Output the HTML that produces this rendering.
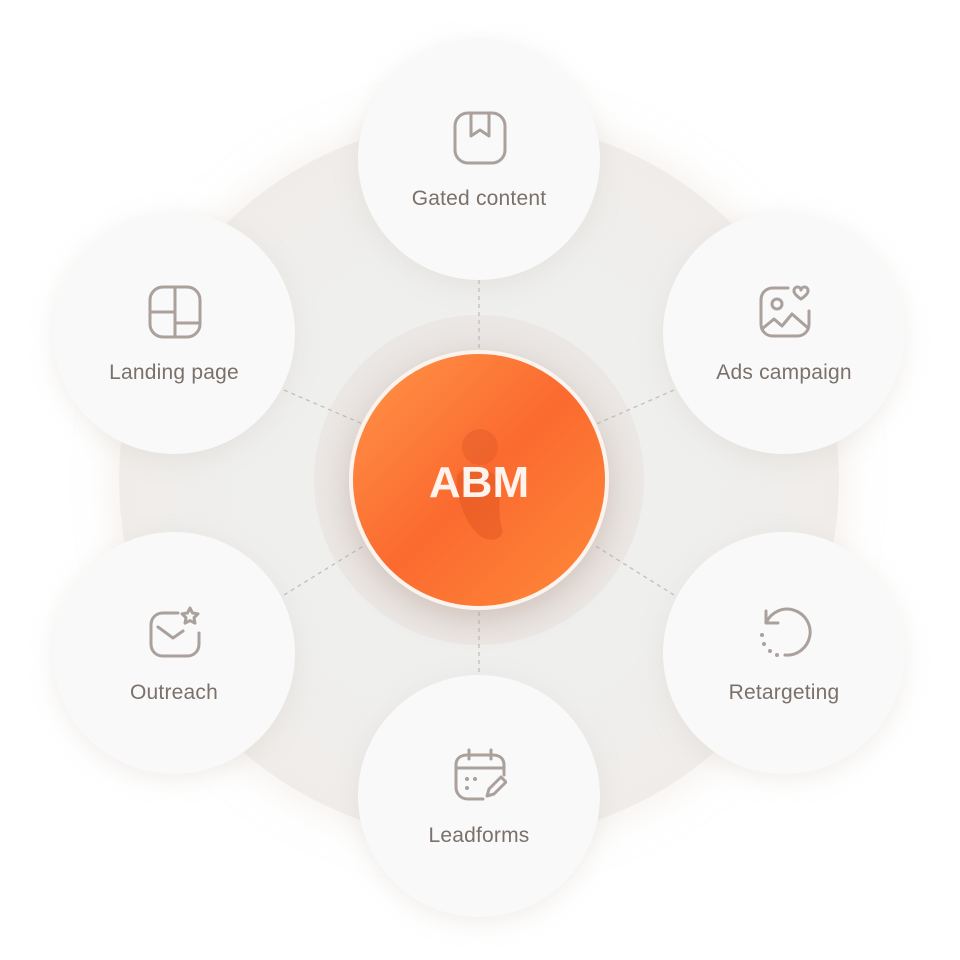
<!DOCTYPE html>
<html><head><style>
html,body{margin:0;padding:0;background:#fff;}
body{width:960px;height:960px;position:relative;overflow:hidden;font-family:"Liberation Sans",sans-serif;}
.bg{position:absolute;left:119px;top:120px;width:720px;height:720px;border-radius:50%;background:radial-gradient(circle at 50% 50%,#eeeeee 0%,#efefee 45%,#f0ece9 75%,#f1ece8 100%);box-shadow:0 0 36px 6px rgba(238,230,222,0.5);}
.inner{position:absolute;left:314px;top:315px;width:330px;height:330px;border-radius:50%;background:radial-gradient(circle,#e6e3e1 40%,#ebe7e4 70%,rgba(236,233,231,0) 100%);}
.sat{position:absolute;width:242px;height:242px;border-radius:50%;background:#f9f9f9;box-shadow:0 6px 24px rgba(200,190,180,0.25);}
.sat .lbl{position:absolute;left:0;width:100%;text-align:center;top:149px;font-size:21px;color:#7c706b;letter-spacing:0.2px;}
.sat svg{position:absolute;left:95px;top:73px;}
.core{position:absolute;left:349px;top:350px;width:252px;height:252px;border-radius:50%;background:linear-gradient(135deg,#ff9548 0%,#fb6a2f 50%,#ff8a3a 100%);border:4px solid #fbf3ee;box-shadow:0 10px 30px rgba(160,120,100,0.3);}
.core .t{position:absolute;left:0;width:100%;top:104px;text-align:center;color:#fff3ee;font-weight:bold;font-size:44px;}
</style></head><body>
<div class="bg"></div>
<div class="inner"></div>
<svg width="960" height="960" style="position:absolute;left:0;top:0">
<g stroke="#c4bebb" stroke-width="1.3" stroke-dasharray="4,4" fill="none">
<line x1="479" y1="280" x2="479" y2="352"/>
<line x1="479" y1="604" x2="479" y2="675"/>
<line x1="284" y1="390" x2="365" y2="425"/>
<line x1="674" y1="390" x2="594" y2="425"/>
<line x1="284" y1="595" x2="365" y2="545"/>
<line x1="674" y1="595" x2="594" y2="545"/>
</g></svg>
<div class="sat" style="left:358px;top:38px"><svg width="54" height="54" viewBox="0 0 54 54" fill="none" stroke="#aaa09c" stroke-width="3" stroke-linecap="round" stroke-linejoin="round"><rect x="2" y="2" width="50" height="50" rx="13"/><path d="M18 3v22l9-6 9 6V3"/></svg><div class="lbl">Gated content</div></div>
<div class="sat" style="left:53px;top:212px"><svg width="54" height="54" viewBox="0 0 54 54" fill="none" stroke="#aaa09c" stroke-width="3" stroke-linecap="round"><rect x="2" y="2" width="50" height="50" rx="13"/><path d="M27 2v50M2 27h25M27 38h25"/></svg><div class="lbl">Landing page</div></div>
<div class="sat" style="left:663px;top:212px"><svg width="54" height="54" viewBox="0 0 54 54" fill="none" stroke="#aaa09c" stroke-width="3" stroke-linecap="round" stroke-linejoin="round"><path d="M30 3H15C8 3 3 8 3 15v24c0 7 5 12 12 12h24c7 0 12-5 12-12V26"/><circle cx="19" cy="19" r="5"/><path d="M4 44l12-10 8 7 10-12 16 14"/><path d="M43 14c-3-2-7-5-7-8a3.5 3.5 0 017-1 3.5 3.5 0 017 1c0 3-4 6-7 8z"/></svg><div class="lbl">Ads campaign</div></div>
<div class="sat" style="left:53px;top:532px"><svg width="54" height="54" viewBox="0 0 54 54" fill="none" stroke="#aaa09c" stroke-width="3" stroke-linecap="round" stroke-linejoin="round"><path d="M30 8H15C8 8 3 13 3 20v19c0 7 5 12 12 12h24c7 0 12-5 12-12V28"/><path d="M10 22l15 11 10-7"/><path d="M42 3l2.5 5 5.5.8-4 3.9 1 5.5-5-2.6-5 2.6 1-5.5-4-3.9 5.5-.8z"/></svg><div class="lbl">Outreach</div></div>
<div class="sat" style="left:663px;top:532px"><svg width="54" height="54" viewBox="0 0 54 54" fill="none" stroke="#aaa09c" stroke-width="3" stroke-linecap="round" stroke-linejoin="round"><path d="M8 18A23 23 0 1127 50"/><path d="M8 6v12h12"/><path d="M4 30v0M6 39v0M12 46v0M19 50v0" stroke-width="4"/></svg><div class="lbl">Retargeting</div></div>
<div class="sat" style="left:358px;top:675px"><svg width="54" height="54" viewBox="0 0 54 54" fill="none" stroke="#aaa09c" stroke-width="3" stroke-linecap="round" stroke-linejoin="round"><path d="M30 51H15C8 51 3 46 3 39V17C3 10 8 7 15 7h24c7 0 12 3 12 10v10"/><path d="M3 20h48M16 2v9M38 2v9"/><path d="M14 31v0M22 31v0M14 40v0" stroke-width="4"/><path d="M34 48l2-7 12-12 5 5-12 12z"/></svg><div class="lbl">Leadforms</div></div>
<div class="core">
<svg width="252" height="252" style="position:absolute;left:-4px;top:-4px"><circle cx="131" cy="97" r="18" fill="#e0592b" opacity="0.45"/><path d="M108 125c10-10 35-10 40 5 5 18 0 35 5 48 3 12-12 15-22 8-15-12-25-40-23-61z" fill="#d9501f" opacity="0.4"/></svg>
<div class="t">ABM</div></div>
</body></html>
